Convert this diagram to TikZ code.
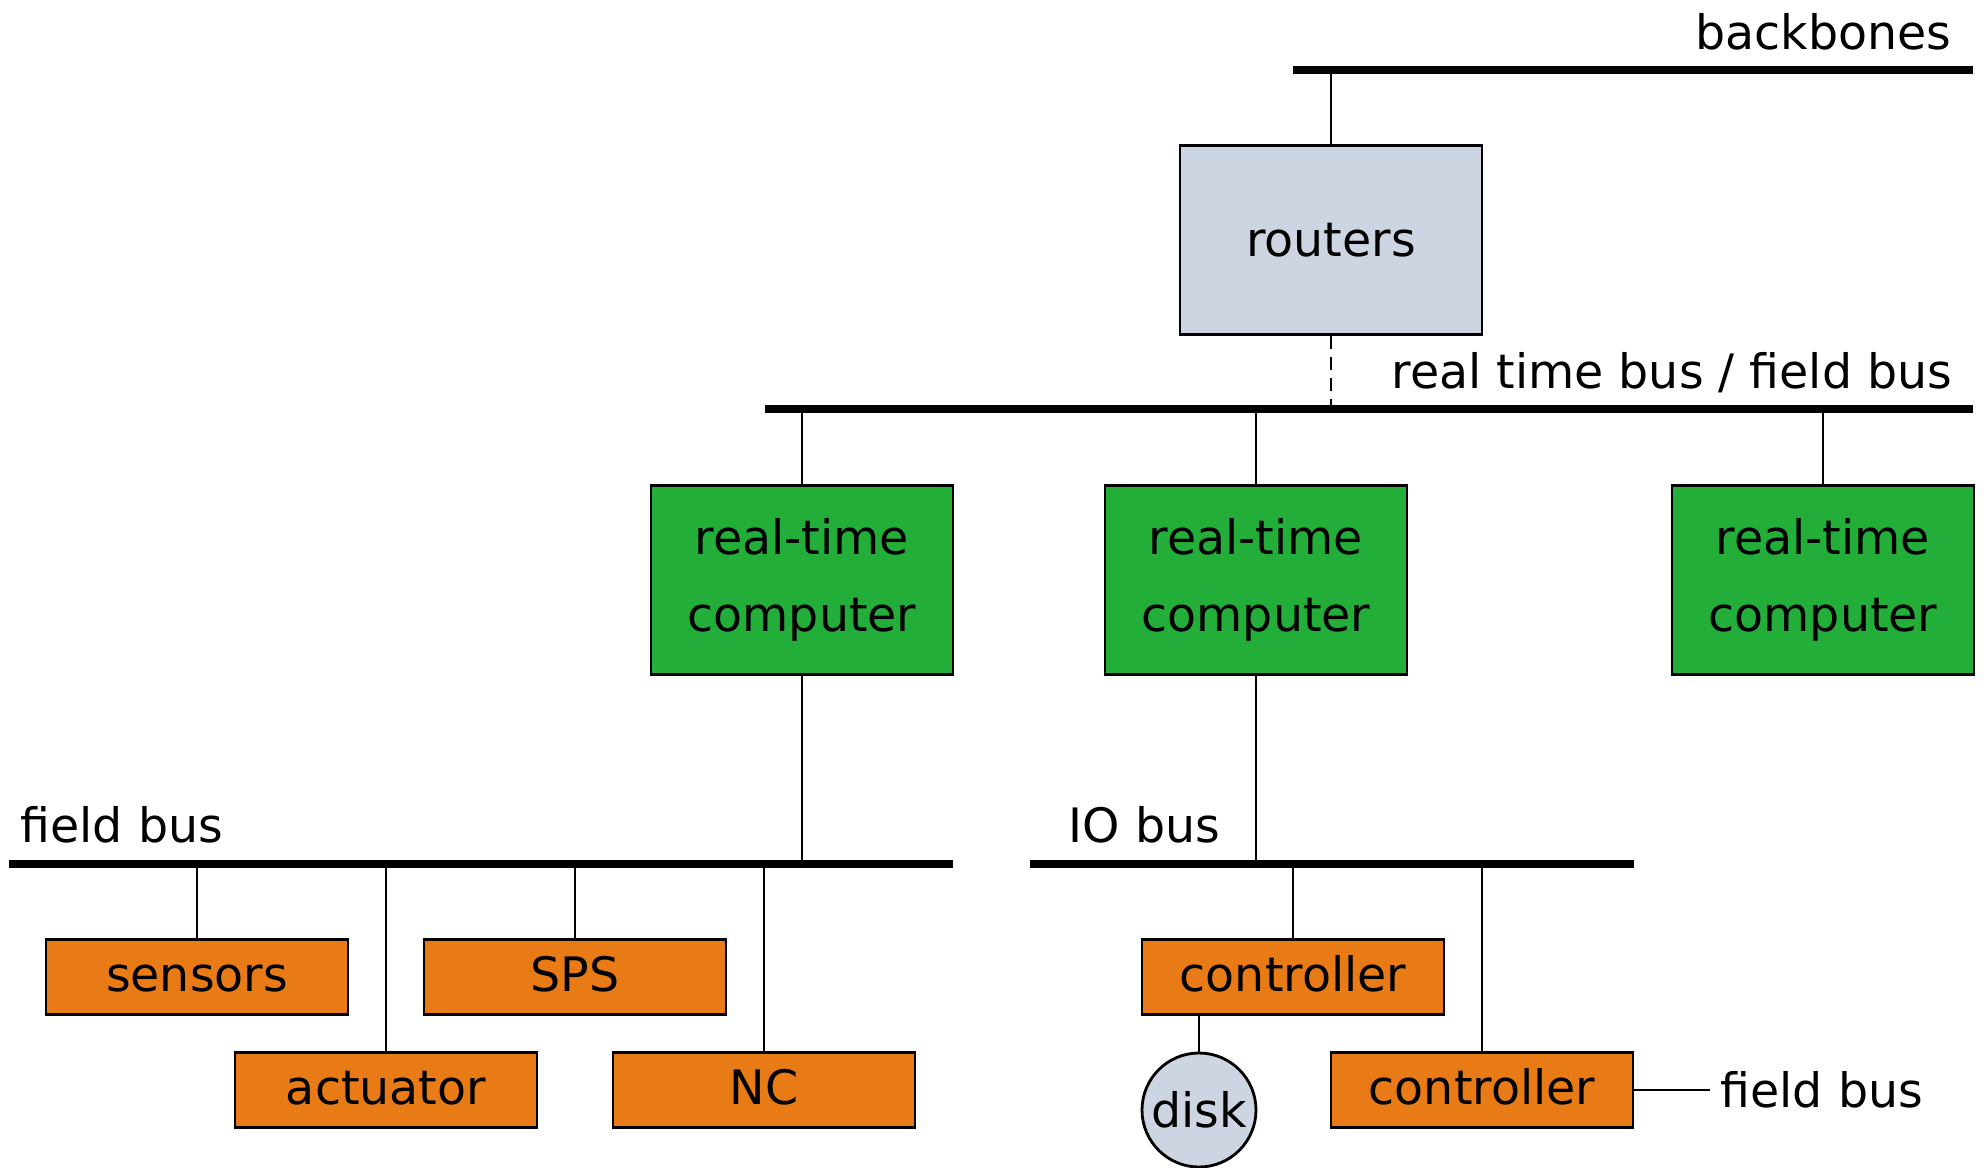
\documentclass[tikz,border=0pt]{standalone}
\usepackage{fontspec}
\setmainfont{DejaVu Sans}
\definecolor{rtgreen}{RGB}{34,174,56}
\definecolor{devorange}{RGB}{232,123,21}
\definecolor{routergray}{RGB}{206,213,226}
\tikzset{
  bus/.style={line width=2.3pt},
  wire/.style={line width=0.8pt},
  unit/.style={draw,line width=0.8pt,inner sep=0pt,minimum width=3.02cm,align=center},
  rtbox/.style={unit,fill=rtgreen,minimum height=1.89cm},
  devbox/.style={unit,fill=devorange,minimum height=0.75cm,text height=0.9em,text depth=0.1em},
  buslabel/.style={inner sep=0pt}
}

\begin{document}
\begin{tikzpicture}[x=0.1mm,y=-0.1mm,font=\fontsize{13.5}{22}\selectfont]
                \useasboundingbox (0,0) rectangle (1986,1167);

                % buses
                \coordinate (bbL) at (1293,70);   \coordinate (bbR) at (1973,70);
                \coordinate (rtL) at (765,409);   \coordinate (rtR) at (1973,409);
                \coordinate (fbL) at (9,864);     \coordinate (fbR) at (953,864);
                \coordinate (ioL) at (1030,864);  \coordinate (ioR) at (1634,864);
                \draw[bus] (bbL) -- (bbR);
                \draw[bus] (rtL) -- (rtR);
                \draw[bus] (fbL) -- (fbR);
                \draw[bus] (ioL) -- (ioR);

                \node[buslabel,anchor=base east] (bblabel) at (1952,49) {backbones};
                \node[buslabel,anchor=base east] (rtlabel) at (1953,388) {real time bus / field bus};
                \node[buslabel,anchor=base west] (fblabel) at (20,842) {field bus};
                \node[buslabel,anchor=base west] (iolabel) at (1068,842) {IO bus};

                % routers and real-time computers
                \node[rtbox,fill=routergray] (router) at (1331,240) {routers};
                \node[rtbox] (rt1) at (802,580) {real-time\\computer};
                \node[rtbox] (rt2) at (1256,580) {real-time\\computer};
                \node[rtbox] (rt3) at (1823,580) {real-time\\computer};

                % devices
                \node[devbox] (sensors) at (197,977) {sensors};
                \node[devbox] (sps) at (575,977) {SPS};
                \node[devbox] (actuator) at (386,1090) {actuator};
                \node[devbox] (nc) at (764,1090) {NC};
                \node[devbox] (ctrl1) at (1293,977) {controller};
                \node[devbox] (ctrl2) at (1482,1090) {controller};
                \node[circle,draw,line width=0.8pt,fill=routergray,inner sep=0pt,minimum size=1.14cm] (disk) at (1199,1110) {disk};
                \node[buslabel,inner sep=0.1cm,anchor=base west] (fb2label) at (1710,1107) {field bus};

                \draw[wire] (router.north) -- (router.north |- bbL);
                \draw[wire,dash pattern=on 3.7pt off 2.3pt] (router.south) -- (router.south |- rtL);
                \foreach \n in {rt1,rt2,rt3}
                  \draw[wire] (\n.north) -- (\n.north |- rtL);
                \draw[wire] (rt1.south) -- (rt1.south |- fbL);
                \draw[wire] (rt2.south) -- (rt2.south |- ioL);
                \foreach \n in {sensors,sps,actuator,nc}
                  \draw[wire] (\n.north) -- (\n.north |- fbL);
                \foreach \n in {ctrl1,ctrl2}
                  \draw[wire] (\n.north) -- (\n.north |- ioL);
                \draw[wire] (disk.north) -- (disk.north |- ctrl1.south);
                \draw[wire] (ctrl2.east) -- (ctrl2.east -| fb2label.west);
            \end{tikzpicture}
\end{document}
